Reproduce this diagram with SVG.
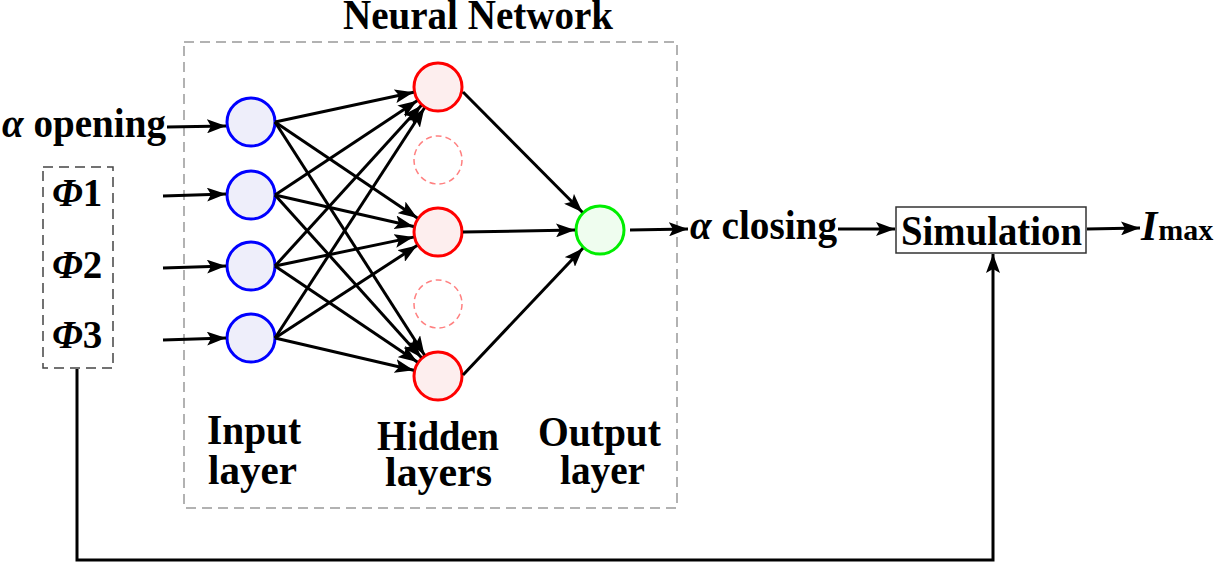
<svg xmlns="http://www.w3.org/2000/svg" width="1216" height="567" viewBox="0 0 1216 567">
<style>
text{font-family:"Liberation Serif","Times New Roman",serif;font-weight:bold;font-size:42px;fill:#000}
.it{font-style:italic}
.c{stroke:#000;stroke-width:3;fill:none;marker-end:url(#ah)}
.inp{fill:#eeeefa;stroke:#0000ff;stroke-width:3}
.hid{fill:#fdeeee;stroke:#ff0000;stroke-width:3}
.ghost{fill:none;stroke:#ff8080;stroke-width:1.5;stroke-dasharray:6 4}
.out{fill:#effdef;stroke:#00ee00;stroke-width:3}
.phi{font-size:39px}
</style>
<defs>
<marker id="ah" markerUnits="userSpaceOnUse" markerWidth="22" markerHeight="14" refX="19" refY="7" orient="auto">
<path d="M0,0 L19,7 L0,14 L4,7 z" fill="#000"/>
</marker>
</defs>
<rect width="1216" height="567" fill="#fff"/>
<g id="nn-box">
<rect x="184" y="42" width="493" height="466" fill="none" stroke="#999" stroke-width="1.5" stroke-dasharray="10 6"/>
<text x="343" y="29" font-size="40" textLength="270" lengthAdjust="spacingAndGlyphs">Neural Network</text>
</g>
<g id="phi-box">
<rect x="43" y="167" width="70" height="201" fill="none" stroke="#444" stroke-width="1.5" stroke-dasharray="10 6"/>
<text class="phi" x="52" y="206"><tspan class="it">Φ</tspan>1</text>
<text class="phi" x="52" y="278"><tspan class="it">Φ</tspan>2</text>
<text class="phi" x="52" y="348"><tspan class="it">Φ</tspan>3</text>
</g>
<g id="alpha-opening"><text x="2" y="137" textLength="164" lengthAdjust="spacingAndGlyphs"><tspan class="it">α</tspan> opening</text></g>
<g id="input-nodes">
<circle class="inp" cx="251" cy="122" r="24"/>
<circle class="inp" cx="251" cy="195" r="24"/>
<circle class="inp" cx="251" cy="266" r="24"/>
<circle class="inp" cx="251" cy="338" r="24"/>
</g>
<g id="hidden-nodes">
<circle class="hid" cx="438" cy="87" r="24"/>
<circle class="ghost" cx="438" cy="160" r="24"/>
<circle class="hid" cx="438" cy="232" r="24"/>
<circle class="ghost" cx="438" cy="304" r="24"/>
<circle class="hid" cx="438" cy="376" r="24"/>
</g>
<g id="output-node"><circle class="out" cx="600" cy="230" r="24"/></g>
<g id="labels">
<text x="207" y="444" textLength="94" lengthAdjust="spacingAndGlyphs">Input</text>
<text x="208" y="484" textLength="89" lengthAdjust="spacingAndGlyphs">layer</text>
<text x="377" y="450" textLength="122" lengthAdjust="spacingAndGlyphs">Hidden</text>
<text x="385" y="486" textLength="107" lengthAdjust="spacingAndGlyphs">layers</text>
<text x="538" y="446" textLength="123" lengthAdjust="spacingAndGlyphs">Output</text>
<text x="560" y="484" textLength="85" lengthAdjust="spacingAndGlyphs">layer</text>
</g>
<g id="alpha-closing"><text x="690" y="239" textLength="147" lengthAdjust="spacingAndGlyphs"><tspan class="it">α</tspan> closing</text></g>
<g id="simulation">
<rect x="896" y="207" width="190" height="46" fill="#fff" stroke="#333" stroke-width="1.5"/>
<text x="901" y="245" textLength="181" lengthAdjust="spacingAndGlyphs">Simulation</text>
</g>
<g id="imax"><text x="1141" y="240"><tspan class="it">I</tspan><tspan font-size="30" dx="1">max</tspan></text></g>
<g id="connectors">
<line class="c" x1="167" y1="127" x2="226" y2="126"/>
<line class="c" x1="163" y1="196" x2="226" y2="194"/>
<line class="c" x1="163" y1="268" x2="226" y2="266"/>
<line class="c" x1="163" y1="340" x2="226" y2="338"/>
<line class="c" x1="275" y1="122" x2="413.6" y2="92.2"/>
<line class="c" x1="275" y1="122" x2="417.3" y2="218"/>
<line class="c" x1="275" y1="122" x2="424.5" y2="355"/>
<line class="c" x1="275" y1="195" x2="417.1" y2="100.8"/>
<line class="c" x1="275" y1="195" x2="413.6" y2="226.5"/>
<line class="c" x1="275" y1="195" x2="421.3" y2="357.4"/>
<line class="c" x1="275" y1="266" x2="421.2" y2="105.5"/>
<line class="c" x1="275" y1="266" x2="413.5" y2="237.1"/>
<line class="c" x1="275" y1="266" x2="417.3" y2="362"/>
<line class="c" x1="275" y1="338" x2="424.4" y2="108"/>
<line class="c" x1="275" y1="338" x2="417" y2="245.6"/>
<line class="c" x1="275" y1="338" x2="413.7" y2="370.3"/>
<line class="c" x1="463" y1="92" x2="582.4" y2="212.3"/>
<line class="c" x1="463" y1="232" x2="575" y2="230"/>
<line class="c" x1="463" y1="375" x2="582.9" y2="248.2"/>
<line class="c" x1="630" y1="230" x2="688" y2="229"/>
<line class="c" x1="838" y1="229" x2="895" y2="229"/>
<line class="c" x1="1087" y1="229" x2="1140" y2="228"/>
<polyline class="c" points="77,369 77,560 993,560 993,254"/>
</g>
</svg>
